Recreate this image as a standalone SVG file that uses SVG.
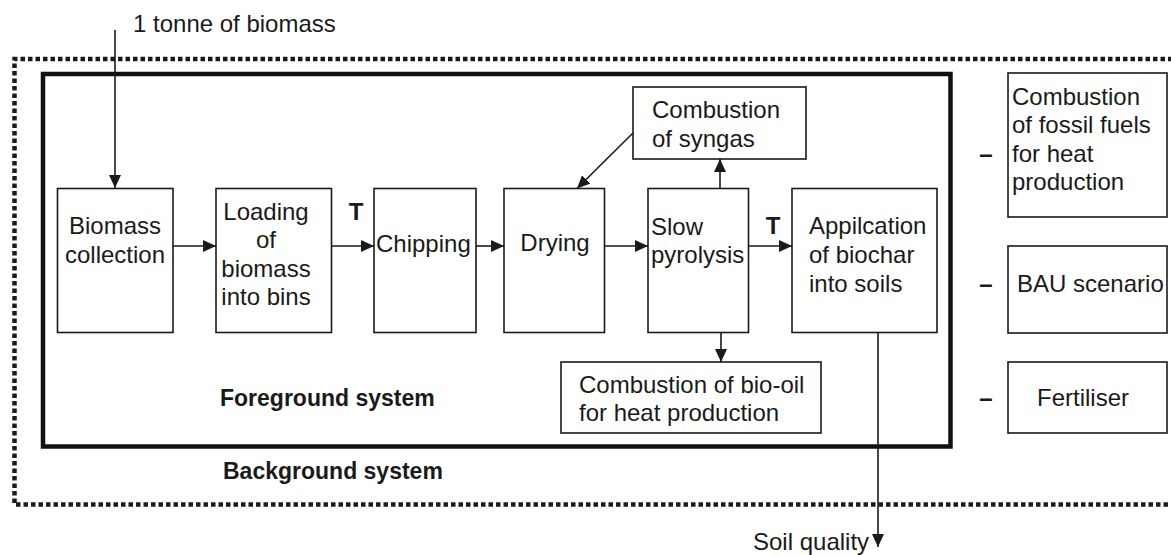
<svg xmlns="http://www.w3.org/2000/svg" width="1171" height="555" viewBox="0 0 1171 555">
<style>
.box{fill:#fff;stroke:#1a1a1a;stroke-width:1.6}
.t{font-family:"Liberation Sans",Arial,sans-serif;font-size:24px;fill:#1a1a1a}
.b{font-family:"Liberation Sans",Arial,sans-serif;font-size:23px;font-weight:bold;fill:#1a1a1a}
.m{text-anchor:middle}
.ln{stroke:#1a1a1a;stroke-width:1.6;fill:none}
</style>
<defs>
<marker id="ah" markerWidth="14" markerHeight="12" refX="13" refY="6" orient="auto" markerUnits="userSpaceOnUse">
<path d="M0,0 L13,6 L0,12 Z" fill="#1a1a1a"/>
</marker>
</defs>
<rect width="1171" height="555" fill="#fff"/>
<g id="background-system">
<path d="M1180,59 L14.5,59 L14.5,504.5 L1180,504.5" fill="none" stroke="#1a1a1a" stroke-width="4.5" stroke-dasharray="4.5 3"/>
<text class="b" x="223" y="479">Background system</text>
</g>
<g id="foreground-system">
<rect x="43" y="74" width="907.5" height="372.5" fill="none" stroke="#111" stroke-width="4.5"/>
<text class="b" x="220" y="406">Foreground system</text>
</g>
<g id="input-label"><text class="t" x="133" y="32">1 tonne of biomass</text></g>
<g id="biomass-collection">
<rect class="box" x="57.5" y="188.5" width="115.5" height="144"/>
<text class="t m" x="115" y="234">Biomass</text>
<text class="t m" x="115" y="263">collection</text>
</g>
<g id="loading">
<rect class="box" x="216" y="188.5" width="115.5" height="144"/>
<text class="t m" x="266" y="220">Loading</text>
<text class="t m" x="266" y="248">of</text>
<text class="t m" x="266" y="277">biomass</text>
<text class="t m" x="266" y="305">into bins</text>
</g>
<g id="chipping">
<rect class="box" x="374" y="188.5" width="102" height="144"/>
<text class="t" x="376" y="252">Chipping</text>
</g>
<g id="drying">
<rect class="box" x="504" y="188.5" width="100.5" height="144"/>
<text class="t m" x="555" y="251">Drying</text>
</g>
<g id="slow-pyrolysis">
<rect class="box" x="648" y="188.5" width="100.5" height="144"/>
<text class="t" x="651" y="235">Slow</text>
<text class="t" x="651" y="263">pyrolysis</text>
</g>
<g id="application">
<rect class="box" x="792" y="188.5" width="145" height="144"/>
<text class="t" x="809" y="234">Appilcation</text>
<text class="t" x="809" y="263">of biochar</text>
<text class="t" x="809" y="292">into soils</text>
</g>
<g id="combustion-syngas">
<rect class="box" x="633" y="87" width="173" height="72"/>
<text class="t" x="652" y="118">Combustion</text>
<text class="t" x="652" y="147">of syngas</text>
</g>
<g id="combustion-biooil">
<rect class="box" x="561" y="362" width="260" height="71"/>
<text class="t" x="579" y="393">Combustion of bio-oil</text>
<text class="t" x="579" y="421">for heat production</text>
</g>
<g id="fossil-fuels">
<rect class="box" x="1008" y="73" width="159" height="144"/>
<text class="t" x="1012" y="105">Combustion</text>
<text class="t" x="1012" y="133">of fossil fuels</text>
<text class="t" x="1012" y="162">for heat</text>
<text class="t" x="1012" y="190">production</text>
<text class="b m" x="986" y="162" style="font-size:24px">–</text>
</g>
<g id="bau-scenario">
<rect class="box" x="1008" y="246" width="159" height="87"/>
<text class="t" x="1017" y="292">BAU scenario</text>
<text class="b m" x="986" y="292" style="font-size:24px">–</text>
</g>
<g id="fertiliser">
<rect class="box" x="1008" y="362" width="159" height="71"/>
<text class="t" x="1037" y="406">Fertiliser</text>
<text class="b m" x="986" y="406" style="font-size:24px">–</text>
</g>
<g id="connectors">
<line class="ln" x1="115" y1="30" x2="115" y2="188" marker-end="url(#ah)"/>
<line class="ln" x1="173" y1="246" x2="216" y2="246" marker-end="url(#ah)"/>
<line class="ln" x1="331.5" y1="246" x2="374" y2="246" marker-end="url(#ah)"/>
<text class="b m" x="356" y="220" style="font-size:24px">T</text>
<line class="ln" x1="476" y1="246" x2="504" y2="246" marker-end="url(#ah)"/>
<line class="ln" x1="604.5" y1="246" x2="648" y2="246" marker-end="url(#ah)"/>
<line class="ln" x1="748.5" y1="246" x2="792" y2="246" marker-end="url(#ah)"/>
<text class="b m" x="773" y="234" style="font-size:24px">T</text>
<line class="ln" x1="720" y1="188.5" x2="720" y2="159" marker-end="url(#ah)"/>
<line class="ln" x1="633" y1="133" x2="577" y2="188.5" marker-end="url(#ah)"/>
<line class="ln" x1="721" y1="332.5" x2="721" y2="362" marker-end="url(#ah)"/>
<line class="ln" x1="878" y1="332.5" x2="878" y2="547" marker-end="url(#ah)"/>
<text class="t" x="753" y="550">Soil quality</text>
</g>
</svg>
